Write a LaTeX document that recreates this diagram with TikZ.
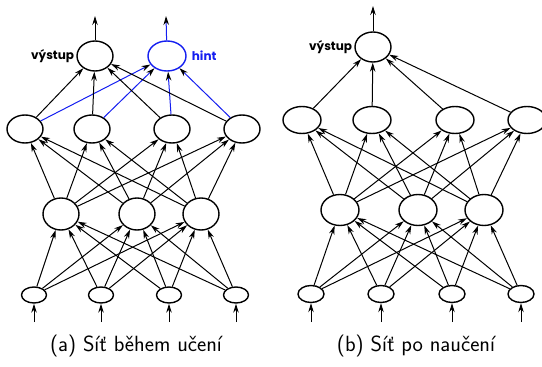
\documentclass[tikz,border=0pt]{standalone}
\usepackage{fontspec}
\newfontfamily\labelfont{Poppins}
\usetikzlibrary{arrows.meta,shapes.geometric}

\definecolor{hintblue}{RGB}{20,30,240}

\tikzset{
  neuron/.style={ellipse, draw, line width=1.4pt, inner sep=0pt,
                 minimum width=36pt, minimum height=30pt},
  smallneuron/.style={neuron, minimum width=25pt, minimum height=16pt},
  syn/.style={-{Stealth[length=9pt,width=5.5pt]}, line width=1pt},
  hintsyn/.style={syn, draw=hintblue, -{Stealth[length=9pt,width=5.5pt,black]}},
  outlabel/.style={font=\labelfont\bfseries\fontsize{12}{14}\selectfont, inner sep=2pt},
  caption/.style={font=\sffamily\fontsize{22}{26}\selectfont}
}

\begin{document}
\begin{tikzpicture}[x=1pt,y=-1pt]
\useasboundingbox (0,0) rectangle (542,367);

% ---------- (a) network while learning ----------
\node[neuron] (aout) at (95,56) {};
\node[neuron, draw=hintblue, minimum width=38pt] (ahint) at (167,56) {};
\node[outlabel, anchor=east] (avl) at (aout.west) {výstup};
\node[outlabel, text=hintblue, anchor=west] (ahl) at ([xshift=3pt]ahint.east) {hint};

\node[neuron, minimum height=28pt] (ah1) at (25,129) {};
\node[neuron, minimum height=28pt] (ah2) at (92,129) {};
\node[neuron, minimum height=28pt] (ah3) at (172,129) {};
\node[neuron, minimum height=28pt] (ah4) at (242,129) {};

\node[neuron, minimum height=32pt] (ag1) at (61,214) {};
\node[neuron, minimum height=32pt] (ag2) at (137,214) {};
\node[neuron, minimum height=32pt] (ag3) at (201,214) {};

\node[smallneuron] (ai1) at (34,295) {};
\node[smallneuron] (ai2) at (101,295) {};
\node[smallneuron] (ai3) at (169,295) {};
\node[smallneuron] (ai4) at (236,295) {};

\coordinate (aouttop) at (95,16);
\coordinate (ahinttop) at (166,16);
\draw[syn] (aout) -- (aouttop);
\draw[hintsyn] (ahint) -- (ahinttop);

\foreach \i in {1,...,4} {
  \draw[syn] (ah\i) -- (aout);
  \draw[hintsyn] (ah\i) -- (ahint);
  \foreach \j in {1,2,3} { \draw[syn] (ag\j) -- (ah\i); }
  \foreach \j in {1,2,3} { \draw[syn] (ai\i) -- (ag\j); }
}
\foreach \i/\x in {1/34,2/101,3/169,4/236} {
  \coordinate (ain\i) at (\x,322);
  \draw[syn] (ain\i) -- (ai\i);
}

\node[caption] (acap) at (136,346) {(a) Síť během učení};

% ---------- (b) network after learning ----------
\node[neuron] (bout) at (373,47) {};
\node[outlabel, anchor=east] (bvl) at (bout.west) {výstup};

\node[neuron, minimum width=38pt, minimum height=27pt] (bh1) at (302,120) {};
\node[neuron, minimum width=38pt, minimum height=27pt] (bh2) at (372,120) {};
\node[neuron, minimum width=38pt, minimum height=27pt] (bh3) at (455,120) {};
\node[neuron, minimum width=38pt, minimum height=27pt] (bh4) at (527,120) {};

\node[neuron, minimum width=38pt, minimum height=31pt] (bg1) at (340,210) {};
\node[neuron, minimum width=38pt, minimum height=31pt] (bg2) at (418,210) {};
\node[neuron, minimum width=38pt, minimum height=31pt] (bg3) at (484,210) {};

\node[smallneuron, minimum width=26pt, minimum height=17pt] (bi1) at (311,294) {};
\node[smallneuron, minimum width=26pt, minimum height=17pt] (bi2) at (381,294) {};
\node[smallneuron, minimum width=26pt, minimum height=17pt] (bi3) at (452,294) {};
\node[smallneuron, minimum width=26pt, minimum height=17pt] (bi4) at (521,294) {};

\coordinate (bouttop) at (373,6);
\draw[syn] (bout) -- (bouttop);

\foreach \i in {1,...,4} {
  \draw[syn] (bh\i) -- (bout);
  \foreach \j in {1,2,3} { \draw[syn] (bg\j) -- (bh\i); }
  \foreach \j in {1,2,3} { \draw[syn] (bi\i) -- (bg\j); }
}
\foreach \i/\x in {1/311,2/381,3/452,4/521} {
  \coordinate (bin\i) at (\x,322);
  \draw[syn] (bin\i) -- (bi\i);
}

\node[caption] (bcap) at (416,346) {(b) Síť po naučení};
\end{tikzpicture}
\end{document}
